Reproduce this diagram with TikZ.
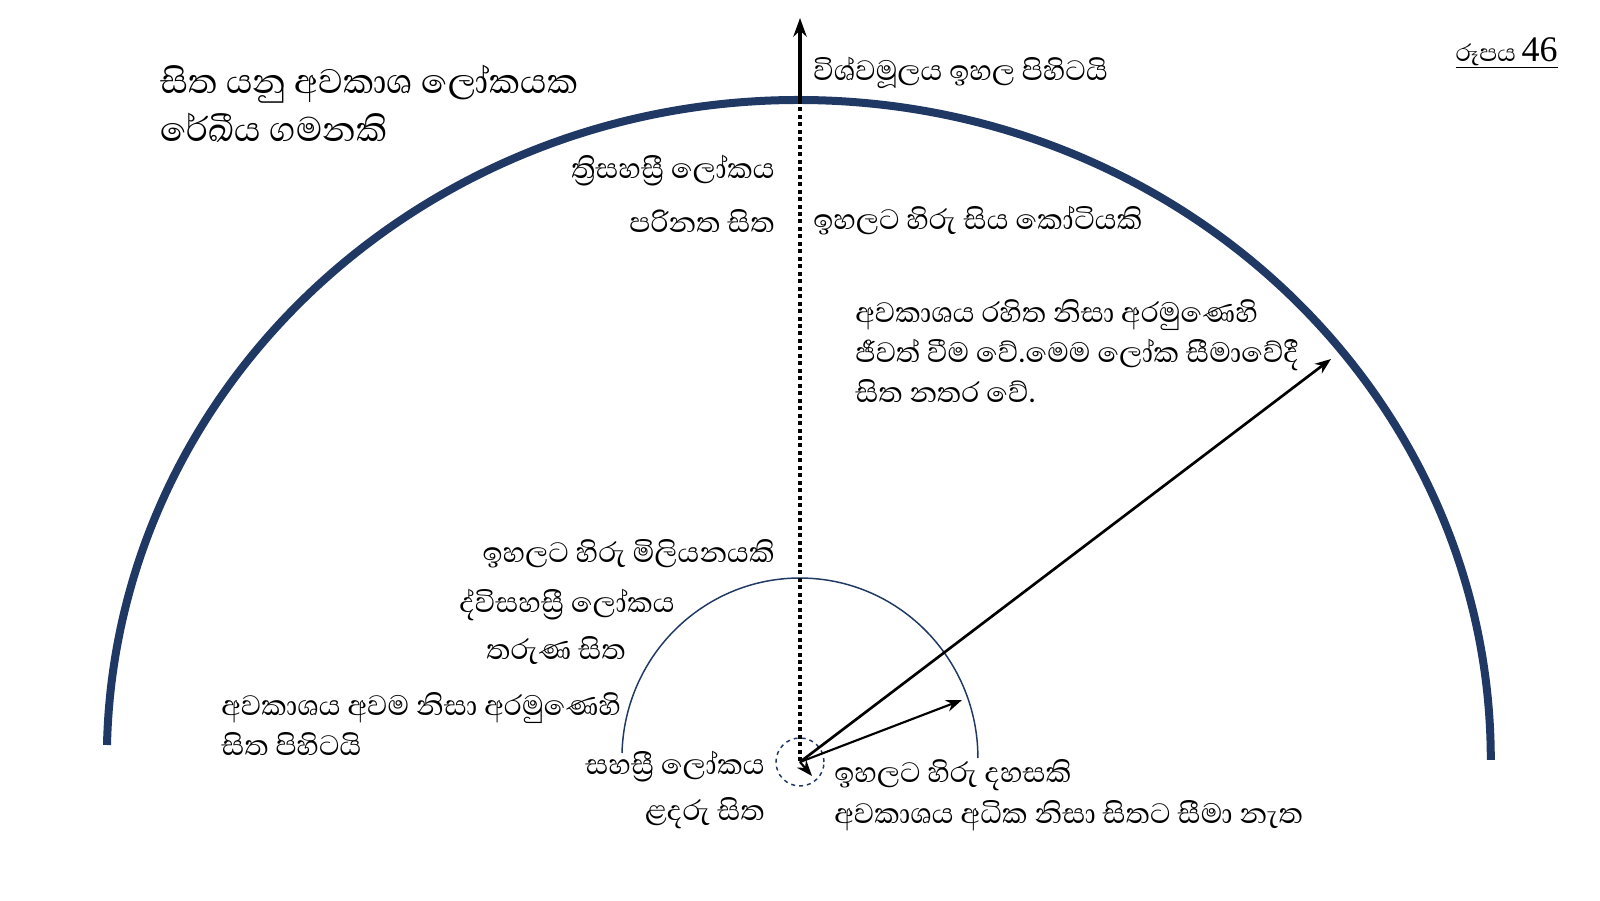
\documentclass[tikz,border=0pt]{standalone}
\usepackage{fontspec}
\setmainfont{Abhaya Libre}[Script=Sinhala]
\newfontfamily\numfont{Liberation Serif}
\usetikzlibrary{arrows.meta}
\definecolor{navy}{HTML}{1F3864}

\begin{document}
\begin{tikzpicture}[x=0.75pt,y=0.75pt,
  lbl/.style={inner sep=0pt,font=\fontsize{27}{31}\selectfont},
  ttl/.style={inner sep=0pt,align=left,font=\fontsize{32.8}{36}\selectfont},
  para/.style={inner sep=0pt,align=left,font=\fontsize{27}{30}\selectfont},
  rim/.style={draw=navy,line width=6pt},
  ring/.style={draw=navy,line width=1.1pt},
  ray/.style={-{Stealth[length=12pt,width=9pt]},line width=1.6pt}]
\useasboundingbox[fill=white] (0,0) rectangle (1600,900);
\coordinate (o) at (800,138);
\coordinate (apex) at (800,800);
\coordinate (sky) at (800,882);
\coordinate (rimpt) at (1331,541);
\coordinate (ringpt) at (962,200);
\coordinate (near) at (812,124);
\draw[rim] (107,155) arc[start angle=178.7,end angle=0,x radius=692,y radius=660];
\draw[ring] (622,147) arc[start angle=178.4,end angle=0,x radius=178,y radius=180];
\draw[navy,dashed,line width=1.1pt] (o) circle[radius=24];
\draw[line width=3pt,dash pattern=on 3pt off 2.6pt] (apex) -- (o);
\draw[-{Stealth[length=14pt,width=10pt]},line width=2.4pt] (apex) -- (sky);
\draw[ray,line width=2pt] (o) -- (rimpt);
\draw[ray] (o) -- (ringpt);
\draw[ray] (o) -- (near);
\node[ttl,anchor=west] (title) at (160,796) {සිත යනු අවකාශ ලෝකයක\\රේඛීය ගමනකි};
\node[lbl,anchor=east,font=\fontsize{23}{26}\selectfont] (fig) at (1558,847) {\underline{රූපය {\numfont\fontsize{27}{30}\selectfont 46}}};
\node[lbl,anchor=west] (root) at (813,827) {විශ්වමූලය ඉහල පිහිටයි};
\node[lbl,anchor=east] (tri) at (775,729) {ත්^^^^200dරිසහස්^^^^200dරී ලෝකය};
\node[lbl,anchor=east] (mature) at (775,679) {පරිනත සිත};
\node[lbl,anchor=west] (koti) at (813,679) {ඉහලට හිරු සිය කෝටියකි};
\node[para,anchor=west] (nospace) at (855,549) {අවකාශය රහිත නිසා අරමුණෙහි\\ජීවත් වීම වේ.මෙම ලෝක සීමාවේදී\\සිත නතර වේ.};
\node[lbl,anchor=east] (million) at (775,346) {ඉහලට හිරු මිලියනයකි};
\node[lbl,anchor=east] (dvi) at (675,295) {ද්විසහස්^^^^200dරී ලෝකය};
\node[lbl,anchor=east] (young) at (626,249) {තරුණ සිත};
\node[para,anchor=west] (lowspace) at (221,176) {අවකාශය අවම නිසා අරමුණෙහි\\සිත පිහිටයි};
\node[lbl,anchor=east] (sahasri) at (765,133) {සහස්^^^^200dරී ලෝකය};
\node[lbl,anchor=east] (infant) at (765,87) {ළදරු සිත};
\node[lbl,anchor=west] (thousand) at (834,125) {ඉහලට හිරු දහසකි};
\node[lbl,anchor=west] (muchspace) at (834,84) {අවකාශය අධික නිසා සිතට සීමා නැත};
\end{tikzpicture}
\end{document}
